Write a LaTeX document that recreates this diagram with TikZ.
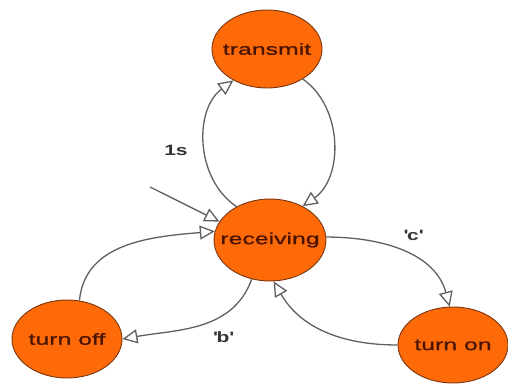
\documentclass[tikz,border=0pt]{standalone}
\usepackage{fontspec}
\newfontfamily\statefont[FakeStretch=1.55,FakeBold=1.2]{Liberation Sans}
\newfontfamily\labelfont[FakeStretch=1.4]{Liberation Sans Bold}
\usepackage{xcolor}
\usetikzlibrary{arrows.meta,shapes.geometric}
\definecolor{stfill}{HTML}{FF6A08}
\definecolor{stdraw}{HTML}{7A3510}
\definecolor{sttext}{HTML}{4A1400}
\definecolor{edgegrey}{HTML}{606060}

\begin{document}
\begin{tikzpicture}[
  x=1pt,y=1pt,
  statenode/.style={ellipse,draw=stdraw,fill=stfill,line width=0.9pt,
    minimum width=110pt,minimum height=78pt,inner ysep=0pt,inner xsep=-20pt,
    text=sttext,font=\statefont\fontsize{16}{18}\selectfont},
  trans/.style={draw=edgegrey,line width=1.3pt,
    -{Triangle[open,length=15pt,width=14pt,fill=white]}},
  lbl/.style={text=black!80,font=\labelfont\fontsize{15}{17}\selectfont}
]
  \useasboundingbox (0,0) rectangle (508,385);

  % states
  \node[statenode] (transmit) at (267,336) {transmit};
  \node[statenode,minimum width=112pt,minimum height=82pt] (receiving) at (270,145) {receiving};
  \node[statenode] (turnoff) at (67,46) {turn off};
  \node[statenode,minimum height=76pt] (turnon) at (453,40) {turn on};

  % start arrow
  \coordinate (init) at (150,198);
  \draw[trans] (init) -- (receiving.160);

  % transitions
  \draw[trans] (receiving.135) to[bend left=55] (transmit.223);
  \draw[trans] (transmit.320) to[bend left=55] (receiving.46);
  \draw[trans] (turnoff.72) to[out=85,in=185] (receiving.171);
  \draw[trans] (receiving.245) to[out=250,in=10] (turnoff.0);
  \draw[trans] (receiving.3) to[out=0,in=105] (turnon.95);
  \draw[trans] (turnon.180) to[out=180,in=300] (receiving.275);

  % labels
  \node[lbl] (l1s) at (176,235) {1s};
  \node[lbl] (lb) at (223,48) {\textquotesingle b\textquotesingle};
  \node[lbl] (lc) at (413,150) {\textquotesingle c\textquotesingle};
\end{tikzpicture}
\end{document}
